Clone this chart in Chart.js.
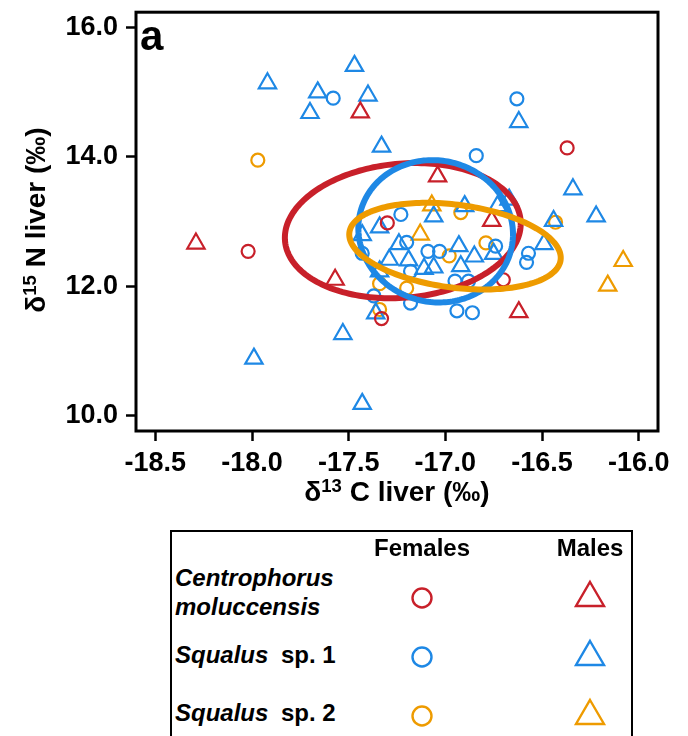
<!DOCTYPE html>
<html>
<head>
<meta charset="utf-8">
<script src="https://cdn.jsdelivr.net/npm/chart.js@4.4.1/dist/chart.umd.min.js"></script>
<style>
  body { margin: 0; background: #fff; }
  #page { position: relative; width: 688px; height: 736px; overflow: hidden; font-family: 'Liberation Sans', Arial, sans-serif; }
  #chartBox { position: absolute; left: 0; top: 0; width: 688px; height: 520px; }
  #panel { position: absolute; left: 140px; top: 15px; font: bold 42px/42px 'Liberation Sans', Arial, sans-serif; }
  .axt { position: absolute; font: bold 28px/28px 'Liberation Sans', Arial, sans-serif; white-space: nowrap; color: #000; }
  .axt sup { font-size: 0.66em; line-height: 0; vertical-align: baseline; position: relative; top: -0.5em; }
  #xTitle { left: 397px; top: 492px; transform: translate(-50%, -50%); }
  #yTitle { left: 36px; top: 220px; transform: translate(-50%, -50%) rotate(-90deg); }
  #legend { position: absolute; left: 170px; top: 530px; width: 463px; height: 240px; border: 2.5px solid #000; box-sizing: border-box; }
  .lt { position: absolute; font: bold 24px/24px 'Liberation Sans', Arial, sans-serif; white-space: nowrap; color: #000; }
  .it { font-style: italic; }
  .mid { transform: translateX(-50%); }
  #marks { position: absolute; left: 0; top: 0; }
</style>
</head>
<body>
<div id="page">
  <div id="chartBox"><canvas id="isoChart" width="688" height="520"></canvas></div>
  <div id="panel">a</div>
  <div id="xTitle" class="axt">δ<sup>13</sup> C liver (‰)</div>
  <div id="yTitle" class="axt">δ<sup>15</sup> N liver (‰)</div>

  <div id="legend"></div>
  <div class="lt mid" style="left:422px; top:536px;">Females</div>
  <div class="lt mid" style="left:590px; top:536px;">Males</div>
  <div class="lt it" style="left:175px; top:566px;">Centrophorus</div>
  <div class="lt it" style="left:175px; top:595px;">moluccensis</div>
  <div class="lt it" style="left:175px; top:643px;">Squalus</div>
  <div class="lt" style="left:281px; top:643px;">sp. 1</div>
  <div class="lt it" style="left:175px; top:701px;">Squalus</div>
  <div class="lt" style="left:281px; top:701px;">sp. 2</div>
  <svg id="marks" width="688" height="736" fill="none" stroke-width="2.4">
    <circle cx="422" cy="598" r="9.5" stroke="#C8202A"/>
    <polygon points="590,582 604,606 576,606" stroke="#C8202A"/>
    <circle cx="422" cy="657" r="9.5" stroke="#1E88E5"/>
    <polygon points="590,641 604,665 576,665" stroke="#1E88E5"/>
    <circle cx="422" cy="716" r="9.5" stroke="#EE9B00"/>
    <polygon points="590,700 604,724 576,724" stroke="#EE9B00"/>
  </svg>
</div>

<script>
// Centrophorus moluccensis (red)
const cmFemC = [-16.37, -18.02, -17.30, -16.70, -17.33];
const cmFemN = [14.14, 12.54, 12.98, 12.10, 11.50];
const cmMalC = [-17.44, -17.04, -18.29, -17.57, -16.76, -16.62];
const cmMalN = [14.69, 13.70, 12.66, 12.10, 13.01, 11.60];

// Squalus sp. 1 (blue)
const sq1FemC = [-17.58, -16.63, -16.84, -17.23, -17.20, -17.43, -16.74, -17.09, -17.03, -16.57,
                 -16.58, -17.18, -16.95, -16.88, -17.37, -17.18, -16.94, -16.86];
const sq1FemN = [14.91, 14.90, 14.02, 13.11, 12.68, 12.51, 12.62, 12.54, 12.54, 12.51,
                 12.37, 12.23, 12.08, 12.08, 11.85, 11.74, 11.62, 11.59];
const sq1MalC = [-17.92, -17.47, -17.66, -17.40, -17.70, -17.33, -16.62, -16.34, -16.67, -16.22,
                 -16.90, -16.73, -17.06, -16.44, -17.34, -17.43, -17.24, -16.93, -16.75, -16.85,
                 -16.92, -17.06, -17.11, -17.19, -17.29, -17.34, -16.49, -17.53, -17.99, -17.43, -17.36];
const sq1MalN = [15.14, 15.41, 15.00, 14.95, 14.68, 14.16, 14.54, 13.50, 13.34, 13.08,
                 13.24, 13.24, 13.08, 13.01, 12.91, 12.79, 12.65, 12.62, 12.50, 12.46,
                 12.31, 12.29, 12.27, 12.40, 12.41, 12.23, 12.65, 11.26, 10.88, 10.18, 11.58];

// Squalus sp. 2 (orange)
const sq2FemC = [-17.97, -16.92, -16.43, -16.79, -16.98, -17.20, -17.34, -17.34];
const sq2FemN = [13.95, 13.14, 12.99, 12.67, 12.47, 11.97, 12.04, 11.64];
const sq2MalC = [-17.07, -17.13, -16.08, -16.16];
const sq2MalN = [13.25, 12.80, 12.39, 12.01];

// standard ellipses: centre, half-width (x), half-height (y), tilt of the x extremes
const ellipseCx = [-17.22, -17.05, -16.95];
const ellipseCy = [12.86, 12.85, 12.62];
const ellipseA = [0.61, 0.40, 0.547];
const ellipseB = [1.04, 1.10, 0.646];
const ellipseSlope = [0.18, -0.12, -0.33];

const xTicks = [-18.5, -18.0, -17.5, -17.0, -16.5, -16.0];
const yTicks = [10, 12, 14, 16];

const RED = '#C8202A', BLUE = '#1E88E5', ORANGE = '#EE9B00';
const ellipseColors = [RED, BLUE, ORANGE];

const zip = (xs, ys) => xs.map((v, i) => ({ x: v, y: ys[i] }));

function pointSet(label, xs, ys, color, style) {
    return {
        label: label,
        data: zip(xs, ys),
        pointStyle: style,
        pointRadius: style === 'triangle' ? 10 : 6.5,
        pointHoverRadius: style === 'triangle' ? 10 : 6.5,
        borderColor: color,
        backgroundColor: 'rgba(0,0,0,0)',
        pointBorderWidth: 2.2,
        borderWidth: 2.2,
        showLine: false
    };
}

// ellipses on top of the points, then the box round the plot
const isoPlugin = {
    id: 'isoPlugin',
    afterDatasetsDraw(chart) {
        const { ctx, scales: { x, y } } = chart;
        ellipseCx.forEach((cx, i) => {
            ctx.save();
            ctx.beginPath();
            for (let k = 0; k <= 200; k++) {
                const t = k / 200 * Math.PI * 2;
                const vx = cx + ellipseA[i] * Math.cos(t);
                const vy = ellipseCy[i] + ellipseB[i] * Math.sin(t) + ellipseSlope[i] * ellipseA[i] * Math.cos(t);
                const px = x.getPixelForValue(vx);
                const py = y.getPixelForValue(vy);
                if (k === 0) ctx.moveTo(px, py); else ctx.lineTo(px, py);
            }
            ctx.closePath();
            ctx.lineWidth = 6;
            ctx.strokeStyle = ellipseColors[i];
            ctx.stroke();
            ctx.restore();
        });
    },
    afterDraw(chart) {
        const { ctx, chartArea: a } = chart;
        ctx.save();
        ctx.lineWidth = 3;
        ctx.strokeStyle = '#000';
        ctx.strokeRect(a.left, a.top, a.right - a.left, a.bottom - a.top);
        ctx.restore();
    }
};

const tickFont = { family: "'Liberation Sans', Arial, sans-serif", size: 27, weight: 'bold' };
const axisGrid = { drawOnChartArea: false, drawTicks: true, tickLength: 10, tickWidth: 2.5, tickColor: '#000' };

const ctx = document.getElementById('isoChart').getContext('2d');
new Chart(ctx, {
    type: 'scatter',
    data: {
        datasets: [
            pointSet('C. moluccensis females', cmFemC, cmFemN, RED, 'circle'),
            pointSet('C. moluccensis males', cmMalC, cmMalN, RED, 'triangle'),
            pointSet('Squalus sp. 1 females', sq1FemC, sq1FemN, BLUE, 'circle'),
            pointSet('Squalus sp. 1 males', sq1MalC, sq1MalN, BLUE, 'triangle'),
            pointSet('Squalus sp. 2 females', sq2FemC, sq2FemN, ORANGE, 'circle'),
            pointSet('Squalus sp. 2 males', sq2MalC, sq2MalN, ORANGE, 'triangle')
        ]
    },
    options: {
        responsive: false,
        animation: false,
        layout: { padding: { top: 9, right: 30, left: 0, bottom: 0 } },
        plugins: {
            legend: { display: false },
            tooltip: { enabled: false }
        },
        scales: {
            x: {
                type: 'linear',
                min: -18.6,
                max: -15.9,
                afterBuildTicks: s => { s.ticks = xTicks.map(v => ({ value: v })); },
                afterFit: s => { s.height = 89; s.paddingLeft = 0; s.paddingRight = 0; },
                ticks: { callback: v => v.toFixed(1), font: tickFont, color: '#000', padding: 6, maxRotation: 0, autoSkip: false },
                grid: axisGrid,
                border: { display: false }
            },
            y: {
                type: 'linear',
                min: 9.76,
                max: 16.24,
                afterBuildTicks: s => { s.ticks = yTicks.map(v => ({ value: v })); },
                afterFit: s => { s.width = 136; s.paddingTop = 0; s.paddingBottom = 0; },
                ticks: { callback: v => v.toFixed(1), font: tickFont, color: '#000', padding: 8, autoSkip: false },
                grid: axisGrid,
                border: { display: false }
            }
        }
    },
    plugins: [isoPlugin]
});
</script>
</body>
</html>
